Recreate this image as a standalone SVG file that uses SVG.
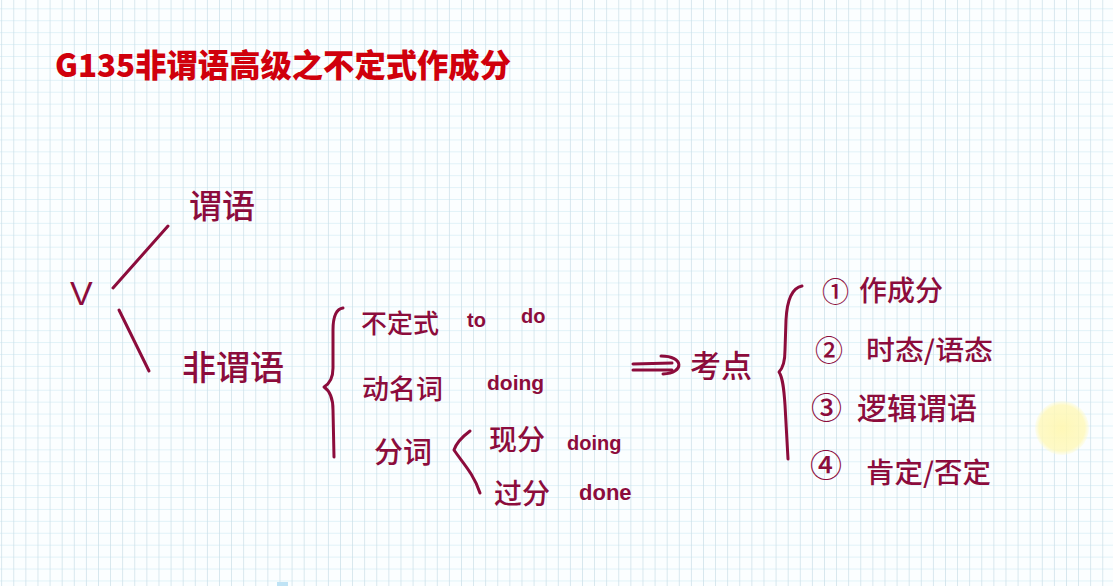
<svg xmlns="http://www.w3.org/2000/svg" width="1113" height="586" viewBox="0 0 1113 586">
<defs>
<pattern id="grid" patternUnits="userSpaceOnUse" x="1.2" y="8.3" width="12.1" height="11.92">
<rect width="12.1" height="11.92" fill="#fbfeff"/>
<line x1="0" y1="0" x2="12.1" y2="0" stroke="#d6eef5" stroke-width="1.4"/>
<line x1="0" y1="0" x2="0" y2="11.92" stroke="#cadfe8" stroke-width="1.4"/>
</pattern>
<radialGradient id="glow">
<stop offset="0" stop-color="#fff7b0" stop-opacity="0.9"/>
<stop offset="0.85" stop-color="#fff8b8" stop-opacity="0.8"/>
<stop offset="1" stop-color="#fffbd0" stop-opacity="0.3"/>
</radialGradient>
<style>
.title{font-family:"Noto Sans CJK SC","Liberation Sans",sans-serif;font-weight:900;font-size:32px;fill:#d0000c}
.hw{font-family:"Noto Sans CJK SC","Liberation Sans",sans-serif;fill:#8c0c3c;font-weight:500}
.lat{font-family:"Liberation Sans","Noto Sans CJK SC",sans-serif;fill:#8c0c3c;font-weight:bold}
.v{font-family:"Liberation Sans",sans-serif;fill:#8c0c3c}
.ln{fill:none;stroke:#8c0c3c;stroke-width:3;stroke-linecap:round;stroke-linejoin:round}
</style>
</defs>
<rect width="1113" height="586" fill="url(#grid)"/>
<circle cx="1062" cy="428" r="27" fill="url(#glow)"/>
<rect x="277" y="582" width="11" height="4" fill="#bfe3f5"/>

<text class="title" x="55" y="77" textLength="456" lengthAdjust="spacingAndGlyphs">G135非谓语高级之不定式作成分</text>

<g id="connectors">
<path class="ln" d="M113,288 L168,226"/>
<path class="ln" d="M119,310 L149,371"/>
<path class="ln" d="M343,308 C336,309 333,316 333,330 L333,368 C333,378 329,384 324,387 C330,391 333,398 333,410 L334,457"/>
<path class="ln" d="M470,431 C462,437 456,444 454,450 C462,462 474,474 480,493"/>
<path class="ln" d="M633,364 L672,363"/>
<path class="ln" d="M633,370 L672,370"/>
<path class="ln" d="M661,356 C684,356 685,373 663,374"/>
<path class="ln" d="M802,286 C792,288 787,300 786,320 L785,350 C785,362 782,369 779,372 C783,378 784,390 785,405 L788,459"/>
</g>

<g id="node-v"><text class="v" x="70" y="305" font-size="34">V</text></g>
<g id="node-weiyu"><text class="hw" x="189" y="218" font-size="33">谓语</text></g>
<g id="node-feiweiyu"><text class="hw" x="182" y="380" font-size="34">非谓语</text></g>

<g id="node-budingshi">
<text class="hw" x="361" y="333" font-size="26">不定式</text>
<text class="lat" x="467" y="327" font-size="20">to</text>
<text class="lat" x="521" y="323" font-size="20">do</text>
</g>
<g id="node-dongmingci">
<text class="hw" x="362" y="399" font-size="27">动名词</text>
<text class="lat" x="487" y="390" font-size="21">doing</text>
</g>
<g id="node-fenci"><text class="hw" x="374" y="463" font-size="29">分词</text></g>
<g id="node-xianfen">
<text class="hw" x="489" y="450" font-size="28">现分</text>
<text class="lat" x="567" y="450" font-size="20">doing</text>
</g>
<g id="node-guofen">
<text class="hw" x="494" y="504" font-size="28">过分</text>
<text class="lat" x="579" y="500" font-size="22">done</text>
</g>

<g id="node-kaodian"><text class="hw" x="690" y="377" font-size="31">考点</text></g>

<g id="node-1">
<text class="hw" x="822" y="302" font-size="27">①</text>
<text class="hw" x="859" y="301" font-size="28">作成分</text>
</g>
<g id="node-2">
<text class="hw" x="815" y="361" font-size="28">②</text>
<text class="hw" x="866" y="360" font-size="27" textLength="127" lengthAdjust="spacingAndGlyphs">时态/语态</text>
</g>
<g id="node-3">
<text class="hw" x="811" y="419" font-size="31">③</text>
<text class="hw" x="857" y="419" font-size="30">逻辑谓语</text>
</g>
<g id="node-4">
<text class="hw" x="810" y="477" font-size="32">④</text>
<text class="hw" x="866" y="483" font-size="28" textLength="125" lengthAdjust="spacingAndGlyphs">肯定/否定</text>
</g>
</svg>
